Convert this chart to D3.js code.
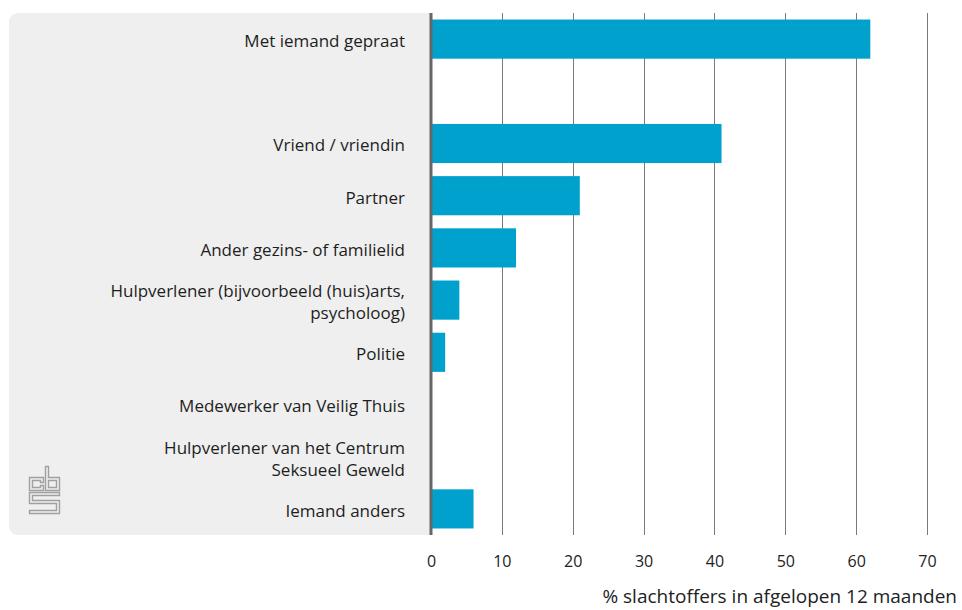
<!DOCTYPE html>
<html>
<head>
<meta charset="utf-8">
<script src="https://cdn.jsdelivr.net/npm/d3@7"></script>
<style>
  html, body { margin: 0; padding: 0; background: #fff; }
  svg { display: block; font-family: "Open Sans", "Noto Sans", sans-serif; }
</style>
</head>
<body>
<svg id="chart" width="962" height="610"></svg>
<script>
// Categories (an empty string marks the spacer row under the total)
const categories = [
  "Met iemand gepraat",
  "",
  "Vriend / vriendin",
  "Partner",
  "Ander gezins- of familielid",
  "Hulpverlener (bijvoorbeeld (huis)arts,\npsycholoog)",
  "Politie",
  "Medewerker van Veilig Thuis",
  "Hulpverlener van het Centrum\nSeksueel Geweld",
  "Iemand anders"
];
const values = [62, null, 41, 21, 12, 4, 2, 0, 0, 6];
const tickValues = [0, 10, 20, 30, 40, 50, 60, 70];
const axisTitle = "% slachtoffers in afgelopen 12 maanden";

const svg = d3.select("#chart");
const plot = { left: 431, right: 927, top: 13, bottom: 535 };
const panelLeft = 9;
const fontFamily = "'Open Sans', 'Noto Sans', sans-serif";

const x = d3.scaleLinear().domain([0, 70]).range([plot.left, plot.right]);
const y = d3.scaleBand()
  .domain(d3.range(categories.length))
  .range([plot.top, plot.bottom])
  .paddingInner(0.25)
  .paddingOuter(0.125);

// Grey label panel, rounded on the left side
const r = 10;
svg.append("path")
  .attr("fill", "#efefef")
  .attr("d", `M${plot.left},${plot.top} L${panelLeft + r},${plot.top}
    Q${panelLeft},${plot.top} ${panelLeft},${plot.top + r}
    L${panelLeft},${plot.bottom - r}
    Q${panelLeft},${plot.bottom} ${panelLeft + r},${plot.bottom}
    L${plot.left},${plot.bottom} Z`);

// Vertical gridlines
svg.append("g")
  .selectAll("line")
  .data(tickValues.filter(d => d > 0))
  .join("line")
  .attr("x1", d => Math.round(x(d)) + 0.5)
  .attr("x2", d => Math.round(x(d)) + 0.5)
  .attr("y1", plot.top)
  .attr("y2", plot.bottom)
  .attr("stroke", "#7a7a7a")
  .attr("stroke-width", 1);

// Bars
svg.append("g")
  .selectAll("rect")
  .data(values.map((v, i) => ({ v, i })).filter(d => d.v !== null && d.v > 0))
  .join("rect")
  .attr("x", x(0))
  .attr("y", d => y(d.i))
  .attr("width", d => x(d.v) - x(0))
  .attr("height", y.bandwidth())
  .attr("fill", "#00a1cd");

// Baseline at zero
svg.append("line")
  .attr("x1", x(0)).attr("x2", x(0))
  .attr("y1", plot.top).attr("y2", plot.bottom)
  .attr("stroke", "#666")
  .attr("stroke-width", 3);

// Category labels
const lineH = 22;
const labels = svg.append("g")
  .attr("font-size", 17)
  .attr("font-family", fontFamily)
  .attr("fill", "#1e1e1e")
  .attr("text-anchor", "end");
categories.forEach((c, i) => {
  if (!c) return;
  const lines = c.split("\n");
  const cy = y(i) + y.bandwidth() / 2 + 2;
  const t = labels.append("text")
    .attr("y", cy - (lines.length - 1) * lineH / 2);
  lines.forEach((ln, k) => {
    t.append("tspan")
      .attr("x", 405)
      .attr("dy", k === 0 ? "0.35em" : lineH)
      .text(ln);
  });
});

// Value axis tick labels
const axis = svg.append("g")
  .attr("transform", `translate(0,${plot.bottom})`)
  .call(d3.axisBottom(x).tickValues(tickValues).tickFormat(d3.format("d")).tickSize(0).tickPadding(21));
axis.select(".domain").remove();
axis.selectAll("text")
  .attr("font-size", 16)
  .attr("font-family", fontFamily)
  .attr("fill", "#222");

// Axis title
svg.append("text")
  .attr("x", 957)
  .attr("y", 596)
  .attr("dy", "0.35em")
  .attr("text-anchor", "end")
  .attr("font-size", 19)
  .attr("font-family", fontFamily)
  .attr("fill", "#222")
  .text(axisTitle);

// Logo mark in the panel's lower-left corner
const logo = svg.append("g")
  .attr("fill", "none")
  .attr("stroke", "#a0a0a0")
  .attr("stroke-width", 1.4);
logo.append("path").attr("d",
  "M29.5,477.5 H43.5 V482.5 H40.5 V480.5 H32.5 V487.5 H40.5 V485.5 H43.5 V490.5 H29.5 Z");
logo.append("path").attr("d",
  "M45.5,466.5 H48.5 V477.5 H59.5 V490.5 H45.5 Z M48.5,480.5 H56.5 V487.5 H48.5 Z");
logo.append("path").attr("d",
  "M29.5,492.5 H59.5 V495.5 H32.5 V500.5 H59.5 V513.5 H29.5 V510.5 H56.5 V503.5 H29.5 Z");
</script>
</body>
</html>
